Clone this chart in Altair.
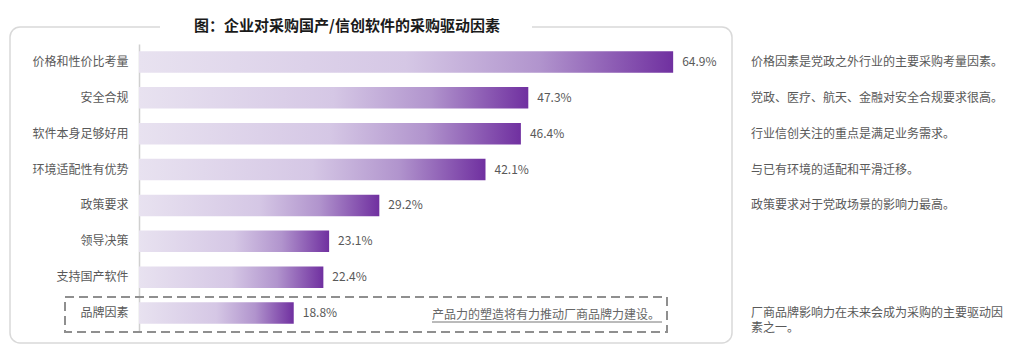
import altair as alt
import pandas as pd

categories = ["价格和性价比考量", "安全合规", "软件本身足够好用", "环境适配性有优势",
              "政策要求", "领导决策", "支持国产软件", "品牌因素"]
values = [64.9, 47.3, 46.4, 42.1, 29.2, 23.1, 22.4, 18.8]
notes = ["价格因素是党政之外行业的主要采购考量因素。",
         "党政、医疗、航天、金融对安全合规要求很高。",
         "行业信创关注的重点是满足业务需求。",
         "与已有环境的适配和平滑迁移。",
         "政策要求对于党政场景的影响力最高。",
         "",
         "",
         "厂商品牌影响力在未来会成为采购的主要驱动因\n素之一。"]
title_text = "图：企业对采购国产/信创软件的采购驱动因素"
box_note = "产品力的塑造将有力推动厂商品牌力建设。"

FONT = "Noto Sans CJK SC"
W, H = 593, 287

df = pd.DataFrame({"cat": categories, "val": values,
                   "label": [f"{v:.1f}%" for v in values]})
notes_df = pd.DataFrame({"cat": categories, "note": notes})
notes_df = notes_df[notes_df["note"] != ""]
deco = pd.DataFrame({"k": [0]})

y_enc = alt.Y("cat:N", sort=categories,
              scale=alt.Scale(paddingInner=0.4, paddingOuter=0.2),
              axis=alt.Axis(title=None, domainColor="#d0d0d0", domainWidth=1.5,
                            ticks=False, grid=False, labelFont=FONT, labelFontSize=12,
                            labelColor="#595959", labelPadding=11))
x_enc = alt.X("val:Q", scale=alt.Scale(domain=[0, 72.05], nice=False), axis=None)

grad = alt.Gradient(gradient="linear",
                    stops=[alt.GradientStop(color="#e8e2f0", offset=0),
                           alt.GradientStop(color="#d5c7e5", offset=0.5),
                           alt.GradientStop(color="#b194cd", offset=0.75),
                           alt.GradientStop(color="#7030a0", offset=1)],
                    x1=0, x2=1, y1=0, y2=0)

panel = alt.Chart(deco).mark_rect(fillOpacity=0, stroke="#d9d9d9", strokeWidth=1.5,
                                  cornerRadius=10).encode(
    x=alt.value(-129), x2=alt.value(593), y=alt.value(-17), y2=alt.value(299))
cover = alt.Chart(deco).mark_rect(fill="white").encode(
    x=alt.value(21), x2=alt.value(393), y=alt.value(-26), y2=alt.value(-8))
title = alt.Chart(deco).mark_text(font=FONT, fontSize=15, fontWeight="bold", color="#1a1a1a",
                                  align="center", baseline="middle").encode(
    x=alt.value(208), y=alt.value(-18), text=alt.value(title_text))

bars = alt.Chart(df).mark_bar(color=grad).encode(x=x_enc, y=y_enc)
labels = alt.Chart(df).mark_text(align="left", baseline="middle", dx=9, font=FONT,
                                 fontSize=12, color="#595959").encode(
    x=x_enc, y=y_enc, text="label:N")
note_text = alt.Chart(notes_df).mark_text(align="left", baseline="middle", lineBreak="\n",
                                          lineHeight=15, font=FONT, fontSize=12,
                                          color="#595959").encode(
    x=alt.value(612), y=y_enc, text="note:N")

box = alt.Chart(deco).mark_rect(fillOpacity=0, stroke="#8f8f8f", strokeWidth=2,
                                strokeDash=[9, 5]).encode(
    x=alt.value(-74), x2=alt.value(528), y=alt.value(253), y2=alt.value(288))
box_text = alt.Chart(deco).mark_text(align="left", baseline="middle", font=FONT, fontSize=12,
                                     color="#666666").encode(
    x=alt.value(293), y=alt.value(271), text=alt.value(box_note))
underline = alt.Chart(deco).mark_rule(color="#777777", strokeWidth=1).encode(
    x=alt.value(293), x2=alt.value(523), y=alt.value(278))

chart = alt.layer(panel, cover, title, bars, labels, note_text, box, box_text, underline).properties(
    width=W, height=H,
    padding={"left": 131, "top": 36, "right": 284, "bottom": 19},
    autosize=alt.AutoSizeParams(type="none"),
).configure_view(strokeWidth=0)

chart.save("out.html", embed_options={"renderer": "svg", "actions": False})
